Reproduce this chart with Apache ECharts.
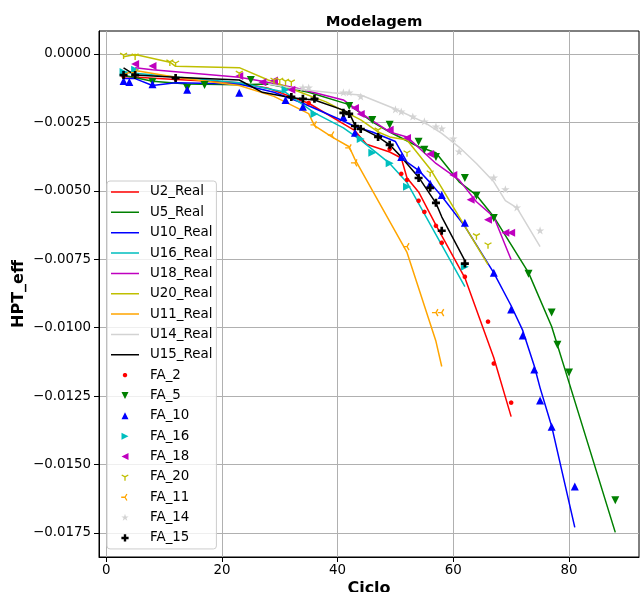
<!DOCTYPE html>
<html><head><meta charset="utf-8">
<script src="https://cdn.jsdelivr.net/npm/echarts@6/dist/echarts.min.js"></script>
<style>html,body{margin:0;padding:0;background:#fff}#c{width:640px;height:592px}</style>
</head><body><div id="c"></div>
<script>
// ---------------- DATA ----------------
const xTicks = [0, 20, 40, 60, 80];
const yTicks = [0, -0.0025, -0.005, -0.0075, -0.01, -0.0125, -0.015, -0.0175];

// model lines (Ux_Real)
const U2_cyc  = [3,12,23,28,35,43,45,49,51,52,54,57,62,67,70];
const U2_val  = [-0.00082,-0.00093,-0.00105,-0.00125,-0.00180,-0.00280,-0.00330,-0.00358,-0.00380,-0.00453,-0.00504,-0.00625,-0.00818,-0.01110,-0.01325];
const U5_cyc  = [3,8,14,23,28,35,42,46,49,54,57,61,64,67,73,77,80,88];
const U5_val  = [-0.00078,-0.00100,-0.00110,-0.00112,-0.00110,-0.00140,-0.00185,-0.00248,-0.00285,-0.00339,-0.00361,-0.00467,-0.00516,-0.00595,-0.00799,-0.00996,-0.01200,-0.01748];
const U10_cyc = [3,5,8,12,23,29,34,41,43,46,50,52,54,56,58,62,67,70,72,74,75,77,81];
const U10_val = [-0.00090,-0.00090,-0.00115,-0.00105,-0.00110,-0.00140,-0.00180,-0.00245,-0.00265,-0.00285,-0.00320,-0.00395,-0.00425,-0.00470,-0.00520,-0.00630,-0.00800,-0.00920,-0.01010,-0.01140,-0.01220,-0.01360,-0.01730];
const U16_cyc = [3,5,23,31,36,41,44,49,52,62];
const U16_val = [-0.00066,-0.00070,-0.00105,-0.00140,-0.00215,-0.00270,-0.00315,-0.00400,-0.00470,-0.00850];
const U18_cyc = [5,8,23,27,33,41,45,49,52,57,61,64,67,69,70];
const U18_val = [-0.00050,-0.00058,-0.00085,-0.00100,-0.00125,-0.00168,-0.00230,-0.00285,-0.00303,-0.00400,-0.00460,-0.00540,-0.00595,-0.00700,-0.00752];
const U20_cyc = [3,5,11,12,23,28,33,38,44,47,49,52,56,58,66];
const U20_val = [-0.00010,-0.00002,-0.00030,-0.00045,-0.00050,-0.00095,-0.00135,-0.00175,-0.00241,-0.00285,-0.00303,-0.00314,-0.00420,-0.00489,-0.00770];
const U11_cyc = [3,5,12,23,29,35,36,39,42,43,52,57,58];
const U11_val = [-0.00075,-0.00060,-0.00085,-0.00115,-0.00155,-0.00218,-0.00262,-0.00303,-0.00339,-0.00385,-0.00725,-0.01050,-0.01142];
const U14_cyc = [28,33,39,44,50,55,58,61,64,67,69,71,75];
const U14_val = [-0.00110,-0.00128,-0.00142,-0.00150,-0.00201,-0.00250,-0.00290,-0.00340,-0.00400,-0.00467,-0.00536,-0.00562,-0.00704];
const U15_cyc = [3,5,12,23,27,32,36,41,42,43,47,49,51,54,57,58,62];
const U15_val = [-0.00051,-0.00077,-0.00085,-0.00095,-0.00140,-0.00160,-0.00168,-0.00205,-0.00215,-0.00260,-0.00303,-0.00332,-0.00376,-0.00450,-0.00545,-0.00595,-0.00755];

// measured points (FA_x)
const FA2_cyc  = [3,12,35,49,51,52,54,55,57,58,62,66,67,70];
const FA2_val  = [-0.00082,-0.00091,-0.00179,-0.00347,-0.00438,-0.00460,-0.00536,-0.00577,-0.00628,-0.00690,-0.00814,-0.00978,-0.01131,-0.01274];
const FA5_cyc  = [8,14,17,25,42,46,49,54,55,57,62,64,67,73,77,78,80,88];
const FA5_val  = [-0.00102,-0.00124,-0.00113,-0.00095,-0.00190,-0.00241,-0.00259,-0.00321,-0.00350,-0.00376,-0.00453,-0.00518,-0.00599,-0.00803,-0.00945,-0.01062,-0.01164,-0.01631];
const FA10_cyc = [3,4,8,14,23,31,34,41,43,51,54,56,58,62,67,70,72,74,75,77,81];
const FA10_val = [-0.00099,-0.00102,-0.00111,-0.00131,-0.00142,-0.00168,-0.00193,-0.00230,-0.00288,-0.00376,-0.00423,-0.00474,-0.00515,-0.00617,-0.00799,-0.00934,-0.01029,-0.01153,-0.01266,-0.01362,-0.01580];
const FA16_cyc = [3,5,31,36,44,46,49,52,62];
const FA16_val = [-0.00066,-0.00058,-0.00131,-0.00219,-0.00311,-0.00361,-0.00399,-0.00485,-0.00777];
const FA18_cyc = [5,8,23,27,29,32,43,44,49,52,56,60,63,66,69,70];
const FA18_val = [-0.00037,-0.00044,-0.00080,-0.00103,-0.00097,-0.00131,-0.00197,-0.00219,-0.00277,-0.00307,-0.00365,-0.00442,-0.00533,-0.00606,-0.00653,-0.00653];
const FA20_cyc = [3,5,11,12,23,29,30,31,32,47,52,56,64,66];
const FA20_val = [-0.00004,-0.00007,-0.00029,-0.00033,-0.00070,-0.00095,-0.00095,-0.00099,-0.00102,-0.00277,-0.00361,-0.00434,-0.00664,-0.00697];
const FA11_cyc = [5,36,39,42,43,52,57,58];
const FA11_val = [-0.00068,-0.00259,-0.00296,-0.00343,-0.00398,-0.00704,-0.00945,-0.00945];
const FA14_cyc = [34,35,41,42,44,50,51,53,55,57,58,60,61,67,69,71,75];
const FA14_val = [-0.00124,-0.00124,-0.00142,-0.00142,-0.00157,-0.00204,-0.00212,-0.00230,-0.00248,-0.00266,-0.00274,-0.00310,-0.00358,-0.00453,-0.00496,-0.00562,-0.00646];
const FA15_cyc = [3,5,12,32,34,36,41,42,43,44,47,49,54,56,57,58,62];
const FA15_val = [-0.00077,-0.00077,-0.00088,-0.00157,-0.00164,-0.00164,-0.00215,-0.00219,-0.00263,-0.00274,-0.00303,-0.00332,-0.00453,-0.00489,-0.00544,-0.00646,-0.00766];

// ---------------- helpers ----------------
function zip(c, v) { return c.map((x, i) => [x, v[i]]); }
function f(n) { return (+n.toFixed(3)).toString(); }
function poly(pts) { return pts.map((p, i) => (i ? 'L' : 'M') + f(p[0]) + ',' + f(p[1])).join(' ') + ' Z'; }
function dot(x, y) { return 'M' + f(x) + ',' + f(y) + ' L' + f(x) + ',' + f(y) + ' Z'; }
function arms(cx, cy, r, dirs, h) {
  return dirs.map(d => {
    const nx = -d[1], ny = d[0];
    return poly([[cx + nx * h, cy + ny * h], [cx + d[0] * r + nx * h, cy + d[1] * r + ny * h],
                 [cx + d[0] * r - nx * h, cy + d[1] * r - ny * h], [cx - nx * h, cy - ny * h]]);
  }).join(' ');
}
function shape(kind, cx, cy, r) {
  switch (kind) {
    case 'up': return poly([[cx, cy - r], [cx + r, cy + r], [cx - r, cy + r]]);
    case 'down': return poly([[cx, cy + r], [cx - r, cy - r], [cx + r, cy - r]]);
    case 'right': return poly([[cx + r, cy], [cx - r, cy - r], [cx - r, cy + r]]);
    case 'left': return poly([[cx - r, cy], [cx + r, cy + r], [cx + r, cy - r]]);
    case 'circle': {
      const p = []; for (let i = 0; i < 24; i++) { const a = i / 24 * 2 * Math.PI; p.push([cx + r * Math.cos(a), cy + r * Math.sin(a)]); }
      return poly(p);
    }
    case 'star': {
      const p = []; for (let i = 0; i < 10; i++) { const a = -Math.PI / 2 + i * Math.PI / 5; const rr = i % 2 ? r * 0.382 : r; p.push([cx + rr * Math.cos(a), cy + rr * Math.sin(a)]); }
      return poly(p);
    }
    case 'plus': {
      const k = r / 3;
      const b = [[-1,-3],[1,-3],[1,-1],[3,-1],[3,1],[1,1],[1,3],[-1,3],[-1,1],[-3,1],[-3,-1],[-1,-1]];
      return poly(b.map(q => [cx + q[0] * k, cy + q[1] * k]));
    }
    case 'tridown': return arms(cx, cy, r, [[0, 1], [0.866, -0.5], [-0.866, -0.5]], r * 0.17);
    case 'trileft': return arms(cx, cy, r, [[-1, 0], [0.5, -0.866], [0.5, 0.866]], r * 0.17);
  }
}
function symbolPath(kind) { return 'path://' + dot(-1, -1) + ' ' + dot(1, 1) + ' ' + shape(kind, 0, 0, 1); }
function legendMarker(kind, r) { return 'path://' + dot(0, 0) + ' ' + dot(34, 14) + ' ' + shape(kind, 14, 7, r); }
const legendLine = 'path://' + dot(0, 0) + ' ' + dot(34, 14) + ' M0,6.25 L28,6.25 L28,7.75 L0,7.75 Z';

// ---------------- series definitions ----------------
const lines = [
  ['U2_Real', '#ff0000', U2_cyc, U2_val],
  ['U5_Real', '#008000', U5_cyc, U5_val],
  ['U10_Real', '#0000ff', U10_cyc, U10_val],
  ['U16_Real', '#00bfbf', U16_cyc, U16_val],
  ['U18_Real', '#bf00bf', U18_cyc, U18_val],
  ['U20_Real', '#bfbf00', U20_cyc, U20_val],
  ['U11_Real', '#ffa500', U11_cyc, U11_val],
  ['U14_Real', '#d3d3d3', U14_cyc, U14_val],
  ['U15_Real', '#000000', U15_cyc, U15_val]
];
const points = [
  ['FA_2', '#ff0000', FA2_cyc, FA2_val, 'circle', 4.6, 2.2],
  ['FA_5', '#008000', FA5_cyc, FA5_val, 'down', 8, 3.5],
  ['FA_10', '#0000ff', FA10_cyc, FA10_val, 'up', 8, 3.5],
  ['FA_16', '#00bfbf', FA16_cyc, FA16_val, 'right', 8, 3.5],
  ['FA_18', '#bf00bf', FA18_cyc, FA18_val, 'left', 8, 3.5],
  ['FA_20', '#bfbf00', FA20_cyc, FA20_val, 'tridown', 8, 3.8],
  ['FA_11', '#ffa500', FA11_cyc, FA11_val, 'trileft', 8, 3.8],
  ['FA_14', '#d3d3d3', FA14_cyc, FA14_val, 'star', 9, 3.9],
  ['FA_15', '#000000', FA15_cyc, FA15_val, 'plus', 8, 3.6]
];

const series = [];
const legendData = [];
lines.forEach(l => {
  series.push({ name: l[0], type: 'line', data: zip(l[2], l[3]), symbol: 'none', showSymbol: false,
    color: l[1], lineStyle: { color: l[1], width: 1.5 }, z: 2, silent: true });
  legendData.push({ name: l[0], icon: legendLine });
});
points.forEach(p => {
  series.push({ name: p[0], type: 'scatter', data: zip(p[2], p[3]), symbol: symbolPath(p[4]), symbolSize: p[5],
    color: p[1], itemStyle: { color: p[1], opacity: 1 }, z: 3, silent: true });
  legendData.push({ name: p[0], icon: legendMarker(p[4], p[6]) });
});

const FONT = 'DejaVu Sans';
const chart = echarts.init(document.getElementById('c'), null, { renderer: 'canvas' });
chart.setOption({
  animation: false,
  backgroundColor: '#ffffff',
  title: {
    text: 'Modelagem', left: 369, top: 10, textAlign: 'center',
    textStyle: { fontFamily: FONT, fontWeight: 'bold', fontSize: 14.8, color: '#000' }
  },
  grid: { left: 99, right: 1, top: 31, bottom: 35, show: true, borderColor: '#000', borderWidth: 1,
    backgroundColor: 'transparent', containLabel: false, outerBoundsMode: 'none' },
  legend: {
    orient: 'vertical', left: 107, top: 181,
    padding: [4, 4, 4, 4], itemWidth: 34, itemHeight: 14, itemGap: 6.35,
    symbolKeepAspect: true, selectedMode: false,
    backgroundColor: 'rgba(255,255,255,0.8)', borderColor: '#cccccc', borderWidth: 1, borderRadius: 3,
    itemStyle: { borderWidth: 0 },
    textStyle: { fontFamily: FONT, fontSize: 13.4, color: '#000', lineHeight: 14 },
    data: legendData
  },
  xAxis: {
    type: 'value', min: -1.245, max: 92.1,
    name: 'Ciclo', nameLocation: 'middle', nameGap: 24, nameMoveOverlap: false,
    nameTextStyle: { fontFamily: FONT, fontWeight: 'bold', fontSize: 16, color: '#000' },
    axisLine: { show: true, onZero: false, lineStyle: { color: '#000', width: 1 } },
    axisTick: { show: true, inside: false, length: 5, lineStyle: { color: '#000' }, customValues: xTicks },
    axisLabel: { fontFamily: FONT, fontSize: 13.4, color: '#000', margin: 7, customValues: xTicks },
    splitLine: { show: true, lineStyle: { color: '#b0b0b0', width: 1 } }
  },
  yAxis: {
    type: 'value', min: -0.01838, max: 0.00084,
    name: 'HPT_eff', nameLocation: 'middle', nameGap: 72, nameRotate: 90, nameMoveOverlap: false,
    nameTextStyle: { fontFamily: FONT, fontWeight: 'bold', fontSize: 16, color: '#000' },
    axisLine: { show: true, onZero: false, lineStyle: { color: '#000', width: 1 } },
    axisTick: { show: true, inside: false, length: 5, lineStyle: { color: '#000' }, customValues: yTicks },
    axisLabel: { fontFamily: FONT, fontSize: 13.4, color: '#000', margin: 8, customValues: yTicks,
      formatter: v => (v < 0 ? '\u2212' : '') + Math.abs(v).toFixed(4) },
    splitLine: { show: true, lineStyle: { color: '#b0b0b0', width: 1 } }
  },
  series: series
});
</script>
</body></html>
